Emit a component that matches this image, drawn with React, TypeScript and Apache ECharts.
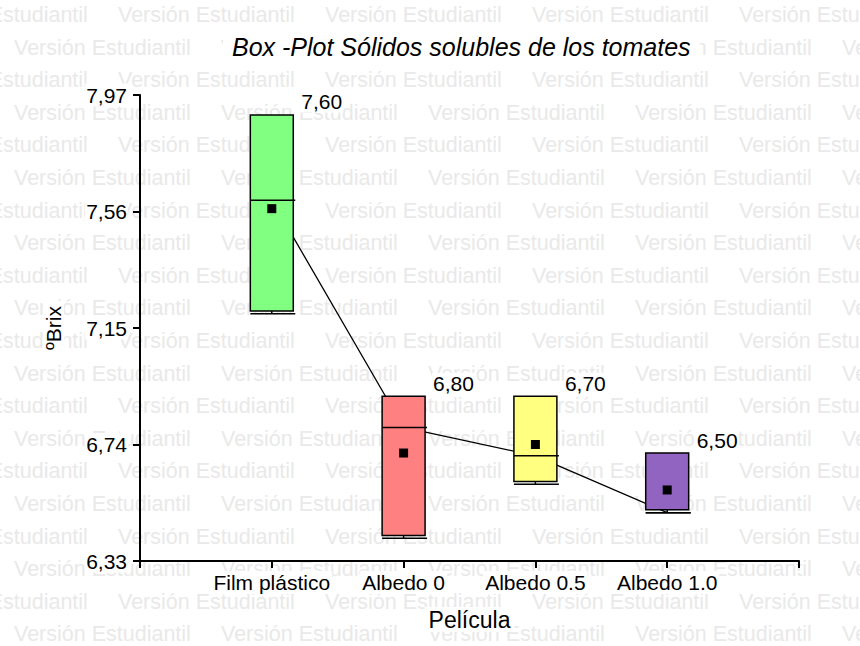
import React, { useEffect, useRef } from 'react';
import * as echarts from 'echarts';

const categories = ['Film plástico', 'Albedo 0', 'Albedo 0.5', 'Albedo 1.0'];
const positions = [1, 2, 3, 4];
const minValues = [7.2, 6.41, 6.6, 6.5];
const q1Values = [7.21, 6.42, 6.61, 6.51];
const medianValues = [7.6, 6.8, 6.7, 6.5];
const q3Values = [7.9, 6.91, 6.91, 6.71];
const maxValues = [7.9, 6.91, 6.91, 6.71];
const meanValues = [7.57, 6.71, 6.74, 6.58];
const boxColors = ['#80FF80', '#FF8080', '#FFFF80', '#9064C0'];
const yTickValues = [6.33, 6.74, 7.15, 7.56, 7.97];
const yTickLabels = ['6,33', '6,74', '7,15', '7,56', '7,97'];

const FONT = '"Liberation Sans", Arial, sans-serif';

export default function App() {
  const ref = useRef<HTMLDivElement>(null);
  useEffect(() => {
    const chart = echarts.init(ref.current as HTMLDivElement, null, { renderer: 'svg' });

    const watermark: any[] = [];
    const rowStep = 32.6;
    const colStep = 207;
    for (let k = 0; k < 20; k++) {
      const y = 15 + k * rowStep;
      const x0 = k % 2 === 0 ? 118 - colStep : 14;
      for (let x = x0; x < 860; x += colStep) {
        watermark.push({
          type: 'text',
          x,
          y,
          z: -1,
          silent: true,
          style: {
            text: 'Versión Estudiantil',
            fill: '#e9e9e9',
            fontSize: 21.5,
            fontFamily: FONT,
            align: 'left',
            verticalAlign: 'middle',
          },
        });
      }
    }

    const boxData = positions.map((p, i) => [
      p,
      minValues[i],
      q1Values[i],
      medianValues[i],
      q3Values[i],
      maxValues[i],
      meanValues[i],
    ]);

    const fmt = (v: number) => v.toFixed(2).replace('.', ',');

    const option: any = {
      animation: false,
      backgroundColor: '#fff',
      title: {
        text: 'Box -Plot Sólidos solubles de los tomates',
        left: 223,
        top: 31,
        padding: [3, 9],
        backgroundColor: '#fff',
        textStyle: {
          fontSize: 25,
          fontStyle: 'italic',
          fontWeight: 'normal',
          color: '#000',
          fontFamily: FONT,
        },
      },
      graphic: { elements: watermark },
      grid: { left: 140, right: 61, top: 95, bottom: 85 },
      xAxis: {
        type: 'value',
        min: 0,
        max: 5,
        interval: 1,
        name: 'Película',
        nameLocation: 'middle',
        nameGap: 46,
        nameTextStyle: {
          fontSize: 23,
          color: '#000',
          fontFamily: FONT,
          backgroundColor: '#fff',
          padding: [1, 4],
        },
        splitLine: { show: false },
        axisLine: { lineStyle: { color: '#000', width: 2 } },
        axisTick: { length: 7, lineStyle: { color: '#000', width: 2 } },
        axisLabel: {
          margin: 10,
          fontSize: 21,
          color: '#000',
          fontFamily: FONT,
          backgroundColor: '#fff',
          padding: [1, 2],
          formatter: (v: number) => {
            const idx = positions.indexOf(Math.round(v));
            return idx >= 0 ? categories[idx] : '';
          },
        },
      },
      yAxis: {
        type: 'value',
        min: yTickValues[0],
        max: yTickValues[yTickValues.length - 1],
        name: 'ºBrix',
        nameLocation: 'middle',
        nameGap: 76,
        nameRotate: 90,
        nameTextStyle: {
          fontSize: 21,
          color: '#000',
          fontFamily: FONT,
          backgroundColor: '#fff',
          padding: [0, 3],
        },
        splitLine: { show: false },
        axisLine: { show: true, lineStyle: { color: '#000', width: 2 } },
        axisTick: { show: true, length: 7, customValues: yTickValues, lineStyle: { color: '#000', width: 2 } },
        axisLabel: {
          margin: 12,
          fontSize: 21,
          color: '#000',
          fontFamily: FONT,
          backgroundColor: '#fff',
          padding: [1, 1],
          customValues: yTickValues,
          formatter: (v: number) => {
            let best = 0;
            for (let i = 0; i < yTickValues.length; i++) {
              if (Math.abs(yTickValues[i] - v) < Math.abs(yTickValues[best] - v)) best = i;
            }
            return yTickLabels[best];
          },
        },
      },
      series: [
        {
          type: 'line',
          z: 1,
          data: positions.map((p, i) => [p, medianValues[i]]),
          symbol: 'none',
          lineStyle: { color: '#000', width: 1.3 },
          silent: true,
        },
        {
          type: 'custom',
          z: 3,
          clip: false,
          data: boxData,
          encode: { x: 0, y: [1, 2, 3, 4, 5, 6] },
          renderItem: (params: any, api: any) => {
            const i = params.dataIndex;
            const x = api.value(0);
            const lo = api.coord([x, api.value(1)]);
            const q1 = api.coord([x, api.value(2)]);
            const med = api.coord([x, api.value(3)]);
            const q3 = api.coord([x, api.value(4)]);
            const hi = api.coord([x, api.value(5)]);
            const mean = api.coord([x, api.value(6)]);
            const hw = api.size([1, 0])[0] * 0.163;
            const cx = q1[0];
            const stroke = { stroke: '#000', lineWidth: 1.5 };
            return {
              type: 'group',
              children: [
                {
                  type: 'line',
                  shape: { x1: cx, y1: q1[1], x2: cx, y2: lo[1] },
                  style: stroke,
                },
                {
                  type: 'line',
                  shape: { x1: cx, y1: q3[1], x2: cx, y2: hi[1] },
                  style: stroke,
                },
                {
                  type: 'line',
                  shape: { x1: cx - hw, y1: lo[1], x2: cx + hw + 2, y2: lo[1] },
                  style: stroke,
                },
                {
                  type: 'rect',
                  shape: { x: cx - hw, y: q3[1], width: hw * 2, height: q1[1] - q3[1] },
                  style: { fill: boxColors[i], stroke: '#000', lineWidth: 1.5 },
                },
                {
                  type: 'line',
                  shape: { x1: cx - hw, y1: med[1], x2: cx + hw + 2, y2: med[1] },
                  style: stroke,
                },
                {
                  type: 'rect',
                  shape: { x: mean[0] - 4.5, y: mean[1] - 4.5, width: 9, height: 9 },
                  style: { fill: '#000' },
                },
                {
                  type: 'text',
                  x: cx + hw + 7,
                  y: q3[1] - 13,
                  style: {
                    text: fmt(medianValues[i]),
                    fill: '#000',
                    fontSize: 21,
                    fontFamily: FONT,
                    align: 'left',
                    verticalAlign: 'middle',
                    backgroundColor: '#fff',
                    padding: [0, 1],
                  },
                },
              ],
            };
          },
        },
      ],
    };

    chart.setOption(option);
    return () => chart.dispose();
  }, []);

  return (
    <div
      ref={ref}
      style={{ position: 'fixed', left: 0, top: 0, width: 860, height: 646, background: '#fff' }}
    />
  );
}
